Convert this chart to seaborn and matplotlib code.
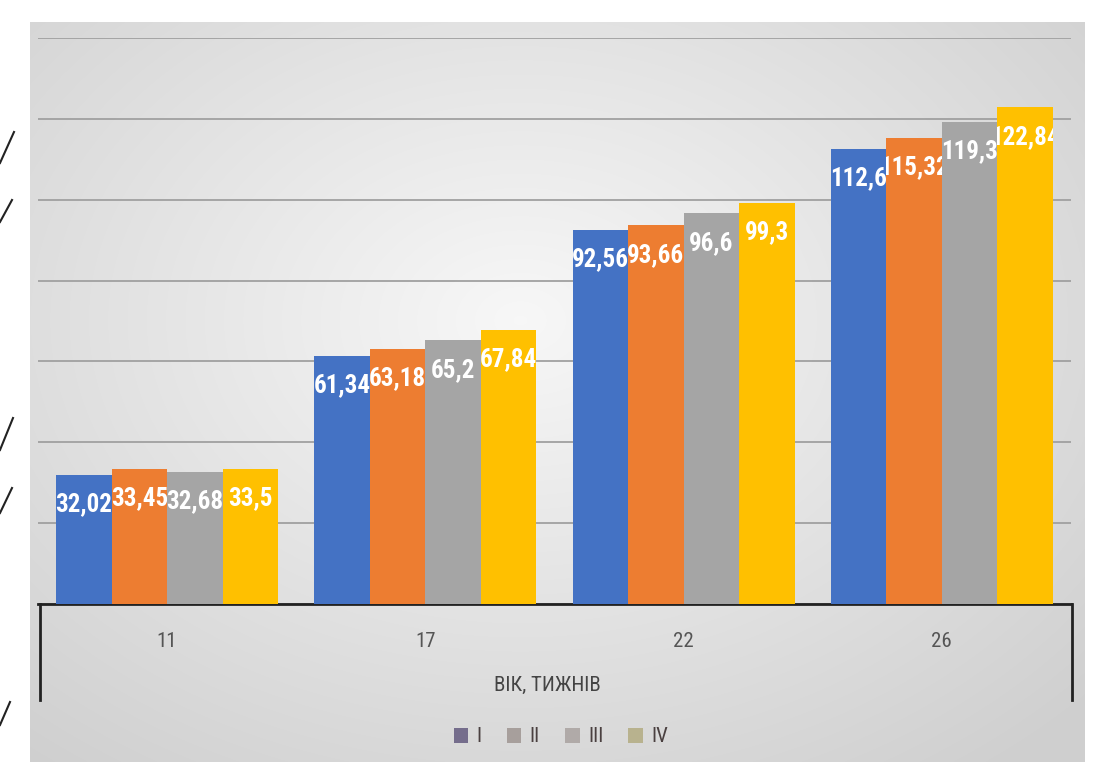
import numpy as np
import pandas as pd
import matplotlib
matplotlib.use('Agg')
import matplotlib.pyplot as plt
import seaborn as sns
from matplotlib import font_manager
from matplotlib.patches import Patch
from matplotlib.lines import Line2D

# data
weeks = ['11', '17', '22', '26']
groups = ['I', 'II', 'III', 'IV']
vals_I = [32.02, 61.34, 92.56, 112.6]
vals_II = [33.45, 63.18, 93.66, 115.32]
vals_III = [32.68, 65.2, 96.6, 119.3]
vals_IV = [33.5, 67.84, 99.3, 122.84]
bar_colors = ['#4472C4', '#ED7D31', '#A5A5A5', '#FFC000']
legend_colors = ['#756d8c', '#a79f9c', '#b0aaa8', '#b8b28e']

df = pd.DataFrame({'week': weeks * 4,
                   'group': np.repeat(groups, 4),
                   'value': vals_I + vals_II + vals_III + vals_IV})

# narrow font if there is one
names = {f.name for f in font_manager.fontManager.ttflist}
narrow = next((n for n in ['Liberation Sans Narrow', 'DejaVu Sans Condensed', 'Roboto Condensed']
               if n in names), 'Liberation Sans')
plt.rcParams['font.family'] = [narrow, 'DejaVu Sans']

W, H = 1096, 762
fig = plt.figure(figsize=(W / 100, H / 100), dpi=100, facecolor='white')

# grey radial background of the chart area
yy, xx = np.mgrid[0:H, 0:W]
d = np.sqrt(((xx - 520) / 640.0) ** 2 + ((yy - 320) / 470.0) ** 2)
shade = 0.97 - 0.13 * np.clip(d, 0, 1.2)
shade[(xx < 30) | (yy < 22) | (xx > 1084)] = 1.0
img = np.dstack([shade, shade, shade])
bg = fig.add_axes([0, 0, 1, 1], zorder=-10)
bg.imshow(img, extent=[0, 1, 0, 1], aspect='auto', origin='upper')
bg.axis('off')

ax = fig.add_axes([38 / W, 1 - 604 / H, (1071 - 38) / W, (604 - 38) / H])
ax.set_facecolor('none')
sns.barplot(data=df, x='week', y='value', hue='group', palette=bar_colors,
            width=0.86, gap=0, saturation=1, legend=False, ax=ax, zorder=3)

ax.set_ylim(0, 140)
ax.set_xlim(-0.5, 3.5)
ax.set_yticks(range(0, 141, 20))
ax.yaxis.grid(True, color='#a0a0a0', lw=1.3)
ax.set_axisbelow(True)
ax.tick_params(axis='y', length=0, labelleft=False)
ax.tick_params(axis='x', length=0, pad=20, labelsize=15, labelcolor='#555555')
for s in ['left', 'right', 'top']:
    ax.spines[s].set_visible(False)
ax.spines['bottom'].set_color('#222222')
ax.spines['bottom'].set_linewidth(2)
ax.set_xlabel('')
ax.set_ylabel('')

# white labels inside the bar tops, clipped to their own bar
for cont in ax.containers:
    labs = [f'{b.get_height():g}'.replace('.', ',') for b in cont]
    texts = ax.bar_label(cont, labels=labs, padding=-30, color='white',
                         fontsize=18, fontweight='bold', zorder=5)
    for t, b in zip(texts, cont):
        t.set_clip_path(b)

# box round the category axis
for x in (40, 1072):
    fig.add_artist(Line2D([x / W, x / W], [1 - 604 / H, 1 - 700 / H], color='#222222', lw=2))

# marks on the left edge of the scan
for (x0, y0, x1, y1) in [(0, 163, 14, 132), (0, 222, 12, 200), (0, 450, 13, 418), (0, 513, 12, 488), (0, 725, 10, 702)]:
    fig.add_artist(Line2D([x0 / W, x1 / W], [1 - y0 / H, 1 - y1 / H], color='#222222', lw=1.5))

fig.text(547 / W, 1 - 685 / H, 'ВІК, ТИЖНІВ', ha='center', va='center', fontsize=15, color='#444444')

handles = [Patch(facecolor=c) for c in legend_colors]
fig.legend(handles, groups, loc='center', bbox_to_anchor=(561 / W, 1 - 737 / H), ncol=4,
           frameon=False, fontsize=15, handlelength=0.7, handleheight=0.7,
           handletextpad=0.4, columnspacing=1.2, labelcolor='#4a4040')

fig.savefig('out.png', dpi=100)
